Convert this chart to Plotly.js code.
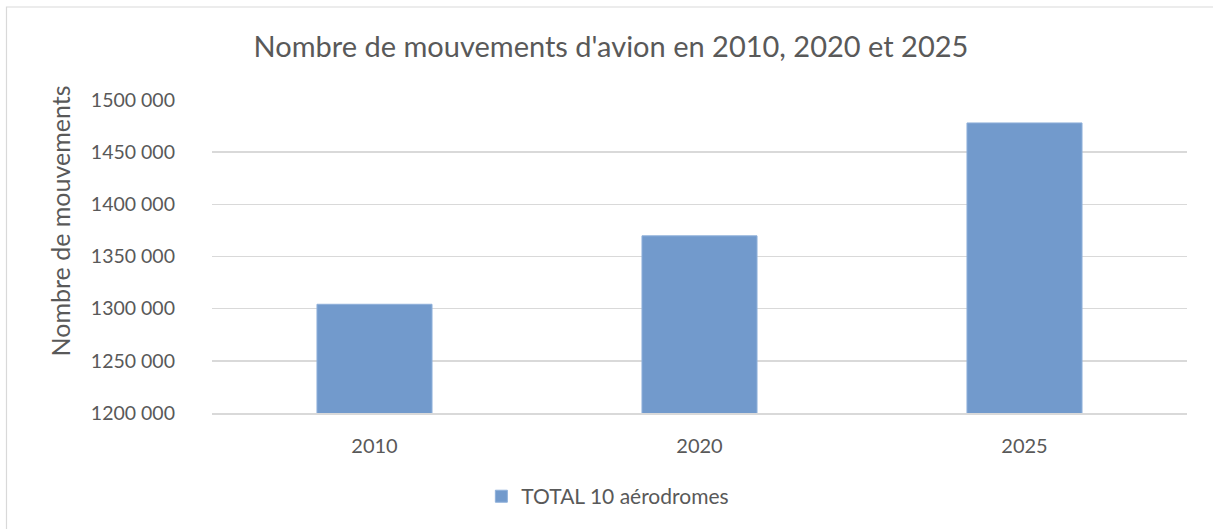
<!DOCTYPE html>
<html>
<head>
<meta charset="utf-8">
<script src="https://cdn.plot.ly/plotly-3.0.1.min.js"></script>
<style>html,body{margin:0;padding:0;background:#fff;}#chart{width:1213px;height:529px;}</style>
</head>
<body>
<div id="chart"></div>
<script>
const years = ['2010', '2020', '2025'];
const movements = [1304200, 1369800, 1478000];
const seriesName = 'TOTAL 10 aérodromes';
const yTickVals = [1200000, 1250000, 1300000, 1350000, 1400000, 1450000, 1500000];
const yTickText = ['1200 000', '1250 000', '1300 000', '1350 000', '1400 000', '1450 000', '1500 000'];

const font = 'Lato, "Open Sans", sans-serif';
const txt = '#595959';

const trace = {
  type: 'bar',
  x: years,
  y: movements,
  name: seriesName,
  marker: {color: '#729acc', line: {color: '#8fb0da', width: 1}},
  showlegend: true
};

const layout = {
  width: 1213, height: 529,
  margin: {l: 212, r: 26, t: 100, b: 116},
  paper_bgcolor: '#fff', plot_bgcolor: '#fff',
  font: {family: font, color: txt, size: 19},
  bargap: 0.646,
  title: {text: "Nombre de mouvements d'avion en 2010, 2020 et 2025", font: {family: font, size: 29, color: txt},
          x: 611 / 1213, xanchor: 'center', xref: 'container', y: 1 - 47 / 529, yanchor: 'middle', yref: 'container'},
  xaxis: {type: 'category', showgrid: false, zeroline: false, showline: true, linecolor: '#d9d9d9', linewidth: 1.5,
          ticks: '', ticklabelstandoff: 14, tickfont: {family: font, size: 20, color: txt}},
  yaxis: {range: [1200000, 1500000], tickvals: yTickVals, ticktext: yTickText, showgrid: true, gridcolor: '#d9d9d9',
          gridwidth: 1.5, zeroline: false, showline: false, ticks: '', ticklabelstandoff: 36,
          tickfont: {family: font, size: 19.5, color: txt}},
  showlegend: true,
  legend: {orientation: 'h', x: 0.406, xanchor: 'center', y: -0.267, yanchor: 'middle',
           font: {family: font, size: 21, color: txt}, itemwidth: 30},
  annotations: [{text: 'Nombre de mouvements', xref: 'paper', yref: 'paper', x: (60 - 212) / 975, y: 0.612,
                 xanchor: 'center', yanchor: 'middle', textangle: -90, showarrow: false,
                 font: {family: font, size: 25, color: txt}}],
  shapes: [{type: 'rect', xref: 'paper', yref: 'paper', x0: (6.5 - 212) / 975, x1: 1.1, y0: -0.5, y1: 1 + 93 / 313,
            line: {color: '#d9d9d9', width: 1.2}, fillcolor: 'rgba(0,0,0,0)', layer: 'below'}]
};

Plotly.newPlot('chart', [trace], layout, {displayModeBar: false, staticPlot: true});
</script>
</body>
</html>
